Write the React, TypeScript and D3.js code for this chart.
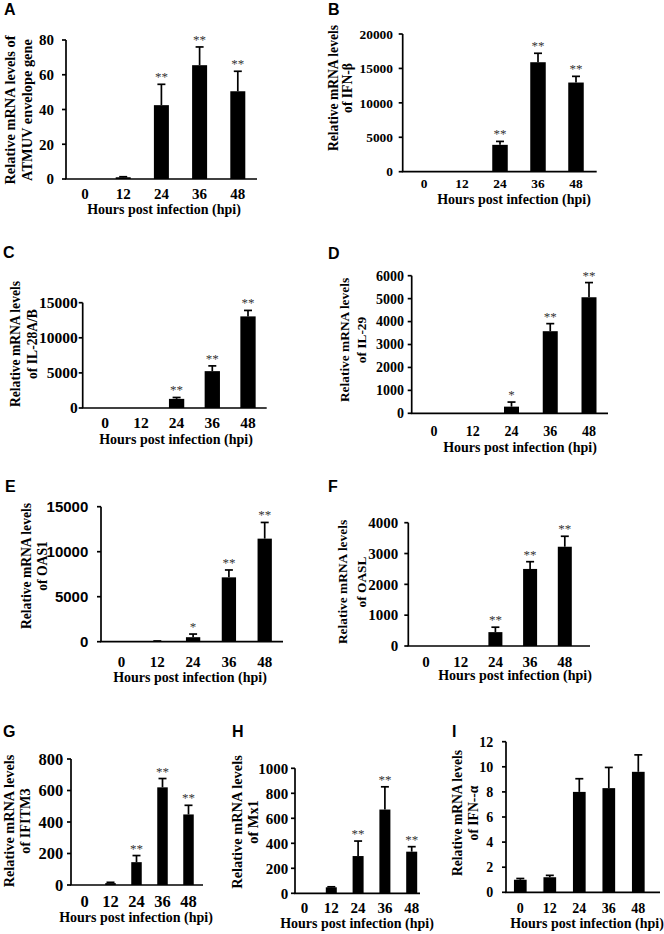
import React from "react";
import * as d3 from "d3";

// ---------- data ----------
const hours = ["0", "12", "24", "36", "48"];

const atmuvMean = [0, 1, 42.5, 65.5, 50.5];
const atmuvSd = [0, 0.3, 12, 10.5, 11.5];
const atmuvSig = ["", "", "**", "**", "**"];
const atmuvTicks = [0, 20, 40, 60, 80];

const ifnbMean = [0, 0, 3900, 15900, 12950];
const ifnbSd = [0, 0, 500, 1300, 900];
const ifnbSig = ["", "", "**", "**", "**"];
const ifnbTicks = [0, 5000, 10000, 15000, 20000];

const il28Mean = [0, 0, 1300, 5250, 13050];
const il28Sd = [0, 0, 200, 750, 850];
const il28Sig = ["", "", "**", "**", "**"];
const il28Ticks = [0, 5000, 10000, 15000];

const il29Mean = [0, 0, 290, 3580, 5060];
const il29Sd = [0, 0, 200, 330, 640];
const il29Sig = ["", "", "*", "**", "**"];
const il29Ticks = [0, 1000, 2000, 3000, 4000, 5000, 6000];

const oas1Mean = [0, 60, 500, 7150, 11450];
const oas1Sd = [0, 20, 350, 820, 1800];
const oas1Sig = ["", "", "*", "**", "**"];
const oas1Ticks = [0, 5000, 10000, 15000];

const oaslMean = [0, 0, 450, 2500, 3220];
const oaslSd = [0, 0, 160, 235, 340];
const oaslSig = ["", "", "**", "**", "**"];
const oaslTicks = [0, 1000, 2000, 3000, 4000];

const ifitm3Mean = [0, 12, 145, 620, 448];
const ifitm3Sd = [0, 5, 42, 56, 58];
const ifitm3Sig = ["", "", "**", "**", "**"];
const ifitm3Ticks = [0, 200, 400, 600, 800];

const mx1Mean = [0, 48, 298, 670, 333];
const mx1Sd = [0, 4, 120, 182, 40];
const mx1Sig = ["", "", "**", "**", "**"];
const mx1Ticks = [0, 200, 400, 600, 800, 1000];

const ifnaMean = [1.0, 1.2, 8.0, 8.3, 9.6];
const ifnaSd = [0.1, 0.15, 1.05, 1.65, 1.35];
const ifnaSig = ["", "", "", "", ""];
const ifnaTicks = [0, 2, 4, 6, 8, 10, 12];

const xTitle = "Hours post infection (hpi)";

// ---------- layout ----------
const SERIF = "'Liberation Serif', 'Times New Roman', serif";
const SANS = "'Liberation Sans', Arial, sans-serif";
const NARROW = "'Liberation Sans Narrow', 'Liberation Sans', Arial, sans-serif";

type PanelCfg = {
  letter: string; lx: number; ly: number;
  mean: number[]; sd: number[]; sig: string[]; ticks: number[];
  x0: number; x1: number; yTop: number; y0: number;
  c0: number; step: number; barW: number;
  tickSize: number; tickGap: number; tickFont?: string;
  title: string[]; tx: number[]; tcy: number; tSize: number;
  labDy: number; titDy: number; titCx: number;
};

const panels: PanelCfg[] = [
  { letter: "A", lx: 4, ly: 15, mean: atmuvMean, sd: atmuvSd, sig: atmuvSig, ticks: atmuvTicks,
    x0: 66, x1: 257, yTop: 40, y0: 179, c0: 85, step: 38.2, barW: 15,
    tickSize: 15, tickGap: 8, title: ["Relative mRNA levels of", "ATMUV envelope gene"], tx: [10, 27], tcy: 110, tSize: 14.4,
    labDy: 20, titDy: 35, titCx: 164 },
  { letter: "B", lx: 328, ly: 15, mean: ifnbMean, sd: ifnbSd, sig: ifnbSig, ticks: ifnbTicks,
    x0: 402.7, x1: 596.7, yTop: 34, y0: 171.7, c0: 424, step: 38, barW: 15.5,
    tickSize: 13.4, tickGap: 5.7, title: ["Relative mRNA levels", "of IFN-β"], tx: [333, 347], tcy: 88, tSize: 13.6,
    labDy: 16.7, titDy: 32, titCx: 514 },
  { letter: "C", lx: 3, ly: 258, mean: il28Mean, sd: il28Sd, sig: il28Sig, ticks: il28Ticks,
    x0: 82.7, x1: 266.7, yTop: 302.7, y0: 408, c0: 105.2, step: 35.7, barW: 15.3,
    tickSize: 15.5, tickGap: 1, title: ["Relative mRNA levels", "of IL-28A/B"], tx: [15, 32], tcy: 344, tSize: 13.6,
    labDy: 20, titDy: 36, titCx: 176 },
  { letter: "D", lx: 328, ly: 259, mean: il29Mean, sd: il29Sd, sig: il29Sig, ticks: il29Ticks,
    x0: 411.7, x1: 608, yTop: 275.7, y0: 413.3, c0: 434, step: 38.75, barW: 15,
    tickSize: 14, tickGap: 3.7, title: ["Relative mRNA levels", "of IL-29"], tx: [344, 361], tcy: 340, tSize: 13.4,
    labDy: 23, titDy: 39, titCx: 520 },
  { letter: "E", lx: 5, ly: 492, mean: oas1Mean, sd: oas1Sd, sig: oas1Sig, ticks: oas1Ticks,
    x0: 101, x1: 283, yTop: 506.7, y0: 641.7, c0: 121.5, step: 35.8, barW: 14.3,
    tickSize: 15, tickGap: 8.7, tickFont: NARROW, title: ["Relative mRNA levels", "of OAS1"], tx: [26, 42], tcy: 566, tSize: 13.6,
    labDy: 25, titDy: 40, titCx: 190 },
  { letter: "F", lx: 328, ly: 492, mean: oaslMean, sd: oaslSd, sig: oaslSig, ticks: oaslTicks,
    x0: 408.3, x1: 590, yTop: 522.7, y0: 646, c0: 426, step: 34.7, barW: 14,
    tickSize: 15, tickGap: 6, title: ["Relative mRNA levels", "of OASL"], tx: [342, 361], tcy: 582, tSize: 13.4,
    labDy: 20.7, titDy: 34, titCx: 515 },
  { letter: "G", lx: 3, ly: 737, mean: ifitm3Mean, sd: ifitm3Sd, sig: ifitm3Sig, ticks: ifitm3Ticks,
    x0: 71, x1: 203, yTop: 759, y0: 885, c0: 84.5, step: 26, barW: 10.5,
    tickSize: 16.5, tickGap: 3.7, title: ["Relative mRNA levels", "of IFITM3"], tx: [9, 25], tcy: 821, tSize: 14.3,
    labDy: 21.7, titDy: 37, titCx: 136 },
  { letter: "H", lx: 232, ly: 737, mean: mx1Mean, sd: mx1Sd, sig: mx1Sig, ticks: mx1Ticks,
    x0: 295, x1: 420, yTop: 768.3, y0: 893.3, c0: 304.5, step: 26.8, barW: 11,
    tickSize: 15, tickGap: 2.7, title: ["Relative mRNA levels", "of Mx1"], tx: [237, 253], tcy: 822, tSize: 14.4,
    labDy: 20, titDy: 35, titCx: 357 },
  { letter: "I", lx: 452, ly: 737, mean: ifnaMean, sd: ifnaSd, sig: ifnaSig, ticks: ifnaTicks,
    x0: 506, x1: 660, yTop: 741.7, y0: 892.3, c0: 520.3, step: 29.5, barW: 12.7,
    tickSize: 14, tickGap: 8.7, title: ["Relative mRNA levels", "of IFN--α"], tx: [457, 473], tcy: 813, tSize: 13.6,
    labDy: 20.7, titDy: 35.7, titCx: 587 },
];

const TICK = 4;
const LW = 1.7;
const CAP = 8;

function Panel({ p }: { p: PanelCfg }) {
  const pi = 1 - p.barW / p.step;
  const x = d3
    .scaleBand<string>()
    .domain(hours)
    .range([p.c0 - p.step / 2, p.c0 - p.step / 2 + p.step * hours.length])
    .paddingInner(pi)
    .paddingOuter(pi / 2);
  const maxT = p.ticks[p.ticks.length - 1];
  const y = d3.scaleLinear().domain([0, maxT]).range([p.y0, p.yTop]);
  const tickFont = p.tickFont || SERIF;

  return (
    <g>
      <text x={p.lx} y={p.ly} fontFamily={SANS} fontWeight="bold" fontSize={16} fill="#000">
        {p.letter}
      </text>
      {p.title.map((t, i) => (
        <text
          key={i}
          transform={`translate(${p.tx[i]},${p.tcy}) rotate(-90)`}
          textAnchor="middle"
          dy="0.35em"
          fontFamily={SERIF}
          fontWeight="bold"
          fontSize={p.tSize}
          fill="#000"
        >
          {t}
        </text>
      ))}
      {hours.map((h, i) => {
        const v = p.mean[i];
        if (v <= 0) return null;
        return (
          <rect key={"b" + h} x={x(h)} y={y(v)} width={x.bandwidth()} height={p.y0 - y(v)} fill="#000" />
        );
      })}
      {hours.map((h, i) => {
        const v = p.mean[i];
        const e = p.sd[i];
        if (e <= 0) return null;
        const cx = (x(h) as number) + x.bandwidth() / 2;
        const top = y(v + e);
        return (
          <g key={"e" + h} stroke="#000" strokeWidth={LW}>
            <line x1={cx} x2={cx} y1={y(v)} y2={top} />
            <line x1={cx - CAP / 2} x2={cx + CAP / 2} y1={top} y2={top} />
          </g>
        );
      })}
      {hours.map((h, i) => {
        const s = p.sig[i];
        if (!s) return null;
        const cx = (x(h) as number) + x.bandwidth() / 2;
        const top = y(p.mean[i] + p.sd[i]);
        return (
          <text key={"s" + h} x={cx} y={top - 3} textAnchor="middle" fontFamily={SERIF} fontSize={13} fill="#333">
            {s}
          </text>
        );
      })}
      <line x1={p.x0} x2={p.x0} y1={p.yTop} y2={p.y0} stroke="#000" strokeWidth={LW} />
      <line x1={p.x0 - LW / 2} x2={p.x1} y1={p.y0} y2={p.y0} stroke="#000" strokeWidth={LW} />
      {p.ticks.map((t) => (
        <g key={"t" + t}>
          <line x1={p.x0 - TICK} x2={p.x0} y1={y(t)} y2={y(t)} stroke="#000" strokeWidth={LW} />
          <text
            x={p.x0 - TICK - p.tickGap}
            y={y(t)}
            dy="0.35em"
            textAnchor="end"
            fontFamily={tickFont}
            fontWeight="bold"
            fontSize={p.tickSize}
            fill="#000"
          >
            {t}
          </text>
        </g>
      ))}
      {hours.map((h) => (
        <text
          key={"x" + h}
          x={(x(h) as number) + x.bandwidth() / 2}
          y={p.y0 + p.labDy}
          textAnchor="middle"
          fontFamily={SERIF}
          fontWeight="bold"
          fontSize={p.tickSize}
          fill="#000"
        >
          {h}
        </text>
      ))}
      <text
        x={p.titCx}
        y={p.y0 + p.titDy}
        textAnchor="middle"
        fontFamily={SERIF}
        fontWeight="bold"
        fontSize={14}
        fill="#000"
      >
        {xTitle}
      </text>
    </g>
  );
}

export default function App() {
  return (
    <svg
      width={664}
      height={934}
      viewBox="0 0 664 934"
      style={{ position: "absolute", left: 0, top: 0, background: "#fff" }}
    >
      <rect x={0} y={0} width={664} height={934} fill="#fff" />
      {panels.map((p) => (
        <Panel key={p.letter} p={p} />
      ))}
    </svg>
  );
}
